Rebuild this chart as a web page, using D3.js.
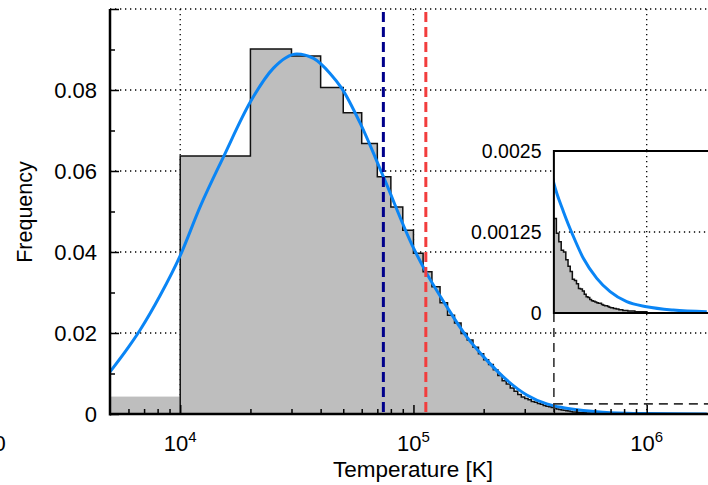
<!DOCTYPE html>
<html>
<head>
<meta charset="utf-8">
<script src="https://cdn.jsdelivr.net/npm/d3@7"></script>
<style>
    body { margin: 0; background: #fff; }
    svg { display: block; font-family: "Liberation Sans", Arial, Helvetica, sans-serif; }
</style>
</head>
<body>
<div id="chart-area"></div>
<script>
// temperature histogram, linear bins of 1e4 K shown on a log axis
const binWidth = 10000;
const lowBinFreq = 0.0043;          // bin 0 - 1e4 K, drawn as fill only
const histFreq = [                   // bins starting at 1e4, 2e4, ...
    0.0637, 0.0901, 0.0884, 0.0806, 0.0744, 0.0668, 0.0586, 0.0511, 0.0454,
    0.0397, 0.0351, 0.0314, 0.0275, 0.0244, 0.0225, 0.0199, 0.0183, 0.0165, 0.0149,
    0.0134, 0.0122, 0.0109, 0.0095, 0.0082, 0.0074, 0.0064, 0.0056, 0.0048, 0.0042,
    0.0038, 0.0035, 0.0031, 0.0029, 0.0026, 0.0024, 0.0021, 0.0019, 0.0018, 0.0016,
    0.00146, 0.00123, 0.00110, 0.00097, 0.00094, 0.00082, 0.00072, 0.00064, 0.00052, 0.00050,
    0.00045, 0.00038, 0.00037, 0.00034, 0.00029, 0.00025, 0.00024, 0.00021, 0.00019, 0.00018,
    0.00017, 0.00016, 0.00015, 0.00015, 0.00013, 0.00012, 0.00011, 0.00011, 0.00010, 0.00009,
    0.00008, 0.00008, 0.00007, 0.00007, 0.00006, 0.00006, 0.00005, 0.00005, 0.00005, 0.00004,
    0.00004, 0.00004, 0.00004, 0.00003, 0.00003, 0.00003, 0.00003, 0.00003, 0.00003, 0.00002,
    0.00002, 0.00002, 0.00002, 0.00002, 0.00002, 0.00002, 0.00002, 0.00002, 0.00002, 0.00002
];

// fitted curve
const fitT = [5000, 6000, 6740, 8210, 10000, 12180, 15330, 20000, 25100, 31600, 37300, 43900,
    49300, 59100, 74300, 100000, 113000, 139000, 169000, 206000, 251000, 306000, 373000,
    400000, 440000, 485000, 535000, 611000, 697000, 821000, 1000000, 1300000, 1810000];
const fitFreq = [0.0104, 0.0165, 0.0208, 0.0293, 0.0391, 0.0512, 0.0635, 0.0771, 0.0854, 0.0889, 0.0878, 0.0841,
    0.0804, 0.0718, 0.0586, 0.0410, 0.0351, 0.0265, 0.0191, 0.0133, 0.0084, 0.0047, 0.0025,
    0.0020, 0.00156, 0.00118, 0.000844, 0.000535, 0.000329, 0.000174, 0.000097, 0.000046, 0.00002];

const markerT = [74300, 113000];
const markerColor = ["#00008b", "#f23d3d"];

const xTicks = [1e4, 1e5, 1e6];
const xTickExp = ["4", "5", "6"];
const yTicks = [0, 0.02, 0.04, 0.06, 0.08, 0.1];
const yTickLabels = ["0", "0.02", "0.04", "0.06", "0.08", ""];
const yMinor = [0.01, 0.03, 0.05, 0.07, 0.09];
const yGrid = [0.02, 0.04, 0.06, 0.08, 0.1];

const insetFrom = 400000;
const insetTicks = [0, 0.00125, 0.0025];
const insetTickLabels = ["0", "0.00125", "0.0025"];

const W = 708, H = 485;
const histFill = "#bebebe", fitColor = "#0a85f5";

let svg = d3.select("#chart-area").append("svg")
    .attr("width", W)
    .attr("height", H);

let x = d3.scaleLog().domain([5000, 1e6]).range([110, 646.7]);
let y = d3.scaleLinear().domain([0, 0.1]).range([414, 9]);
let yIn = d3.scaleLinear().domain([0, 0.0025]).range([313, 151]);

let histData = histFreq.map((v, i) => ({t: (i + 1) * binWidth, v: v}));
let lastEnd = (histFreq.length + 1) * binWidth;
let stepPts = [{t: binWidth, v: 0}].concat(histData, [{t: lastEnd, v: 0}]);
let fitData = fitT.map((t, i) => ({t: t, v: fitFreq[i]}));

svg.append("defs").append("clipPath").attr("id", "main-clip")
    .append("rect").attr("x", 110).attr("y", 0).attr("width", W - 110).attr("height", 414);
svg.select("defs").append("clipPath").attr("id", "inset-clip")
    .append("rect").attr("x", x(insetFrom)).attr("y", 151)
    .attr("width", W - x(insetFrom)).attr("height", 162);

// grid
let grid = svg.append("g").attr("stroke", "#000").attr("stroke-width", 1.3)
    .attr("stroke-dasharray", "1.3 3.7");
grid.selectAll(".hgrid").data(yGrid).enter().append("line")
    .attr("x1", 110).attr("x2", W)
    .attr("y1", d => y(d)).attr("y2", d => y(d));
grid.selectAll(".vgrid").data(xTicks).enter().append("line")
    .attr("x1", d => x(d)).attr("x2", d => x(d))
    .attr("y1", y(0.1)).attr("y2", y(0));

// histogram
let main = svg.append("g").attr("clip-path", "url(#main-clip)");
main.append("rect")
    .attr("x", x(5000))
    .attr("y", y(lowBinFreq))
    .attr("width", x(binWidth) - x(5000))
    .attr("height", y(0) - y(lowBinFreq))
    .attr("fill", histFill);

let area = d3.area().curve(d3.curveStepAfter)
    .x(d => x(d.t)).y0(y(0)).y1(d => y(d.v));
let step = d3.line().curve(d3.curveStepAfter)
    .x(d => x(d.t)).y(d => y(d.v));

main.append("path").attr("d", area(stepPts)).attr("fill", histFill);
main.append("path").attr("d", step(stepPts))
    .attr("fill", "none").attr("stroke", "#111").attr("stroke-width", 1.5);

let fitLine = d3.line().curve(d3.curveMonotoneX)
    .x(d => x(d.t)).y(d => y(d.v));
main.append("path").attr("d", fitLine(fitData))
    .attr("fill", "none").attr("stroke", fitColor).attr("stroke-width", 3);

// dashed markers
main.selectAll(".marker").data(markerT).enter().append("line")
    .attr("x1", d => x(d)).attr("x2", d => x(d))
    .attr("y1", 12).attr("y2", y(0))
    .attr("stroke", (d, i) => markerColor[i])
    .attr("stroke-width", 3)
    .attr("stroke-dasharray", "10 5");

// zoom box
let box = svg.append("g").attr("stroke", "#333").attr("stroke-width", 1.6)
    .attr("stroke-dasharray", "9 6").attr("fill", "none");
box.append("line").attr("x1", x(insetFrom)).attr("x2", x(insetFrom))
    .attr("y1", 313).attr("y2", y(0));
box.append("line").attr("x1", x(insetFrom)).attr("x2", W)
    .attr("y1", y(0.0025)).attr("y2", y(0.0025));

// axes
let yAxis = d3.axisLeft(y).tickValues(yTicks).tickSize(-9).tickSizeOuter(0).tickPadding(13)
    .tickFormat((d, i) => yTickLabels[i]);
let yAxisMinor = d3.axisLeft(y).tickValues(yMinor).tickSize(-5).tickSizeOuter(0).tickFormat("");
let xMinor = x.ticks().filter(t => xTicks.indexOf(t) < 0 && t > 5000);
let xAxis = d3.axisBottom(x).tickValues(xTicks).tickSize(-9).tickSizeOuter(0).tickPadding(14)
    .tickFormat("");
let xAxisMinor = d3.axisBottom(x).tickValues(xMinor).tickSize(-5).tickSizeOuter(0).tickFormat("");

let gy = svg.append("g").attr("transform", "translate(110,0)").call(yAxis);
svg.append("g").attr("transform", "translate(110,0)").call(yAxisMinor);
let gx = svg.append("g").attr("transform", "translate(0,414)").call(xAxis);
svg.append("g").attr("transform", "translate(0,414)").call(xAxisMinor);

svg.selectAll(".domain").remove();
svg.selectAll(".tick line").attr("stroke", "#000").attr("stroke-width", 1.5);
gy.selectAll("text").attr("font-size", 22).attr("fill", "#000").attr("font-family", null);

svg.append("line").attr("x1", 110).attr("x2", 110).attr("y1", 9).attr("y2", 415.5)
    .attr("stroke", "#000").attr("stroke-width", 2.5);
svg.append("line").attr("x1", 110).attr("x2", W).attr("y1", 414).attr("y2", 414)
    .attr("stroke", "#000").attr("stroke-width", 2.5);

// x tick labels with exponents
let xl = svg.append("g").attr("font-size", 22).attr("text-anchor", "middle");
xTicks.forEach(function (t, i) {
    let txt = xl.append("text").attr("x", x(t)).attr("y", 451);
    txt.append("tspan").text("10");
    txt.append("tspan").attr("font-size", 15).attr("dy", -9).text(xTickExp[i]);
});
// clipped label from the neighbouring panel
svg.append("text").attr("x", -6.5).attr("y", 451).attr("font-size", 22).text("0");

svg.append("text")
    .attr("x", 413).attr("y", 477)
    .attr("text-anchor", "middle").attr("font-size", 22.5)
    .text("Temperature [K]");
svg.append("text")
    .attr("transform", "translate(32,212) rotate(-90)")
    .attr("text-anchor", "middle").attr("font-size", 21.5)
    .text("Frequency");

// inset
let xi0 = x(insetFrom);
let inset = svg.append("g");
inset.append("rect").attr("x", xi0).attr("y", 151).attr("width", W - xi0).attr("height", 162)
    .attr("fill", "#fff");
let ig = inset.append("g").attr("stroke", "#000").attr("stroke-width", 1.3)
    .attr("stroke-dasharray", "1.3 3.7");
ig.append("line").attr("x1", xi0).attr("x2", W).attr("y1", yIn(0.00125)).attr("y2", yIn(0.00125));
ig.append("line").attr("x1", x(1e6)).attr("x2", x(1e6)).attr("y1", 151).attr("y2", 313);

let insetPts = histData.filter(d => d.t >= insetFrom).concat([{t: lastEnd, v: 0}]);
let ic = inset.append("g").attr("clip-path", "url(#inset-clip)");
let areaIn = d3.area().curve(d3.curveStepAfter)
    .x(d => x(d.t)).y0(yIn(0)).y1(d => yIn(d.v));
let stepIn = d3.line().curve(d3.curveStepAfter)
    .x(d => x(d.t)).y(d => yIn(d.v));
ic.append("path").attr("d", areaIn(insetPts)).attr("fill", histFill);
ic.append("path").attr("d", stepIn(insetPts)).attr("fill", "none")
    .attr("stroke", "#111").attr("stroke-width", 1.5);
let fitIn = d3.line().curve(d3.curveMonotoneX)
    .x(d => x(d.t)).y(d => yIn(d.v));
ic.append("path").attr("d", fitIn(fitData.filter(d => d.t >= 373000)))
    .attr("fill", "none").attr("stroke", fitColor).attr("stroke-width", 3);

inset.append("path")
    .attr("d", "M" + W + ",151H" + xi0 + "V313H" + W)
    .attr("fill", "none").attr("stroke", "#000").attr("stroke-width", 2);

inset.selectAll(".ilab").data(insetTicks).enter().append("text")
    .attr("x", 541.5)
    .attr("y", d => yIn(d))
    .attr("dy", "0.35em")
    .attr("text-anchor", "end")
    .attr("font-size", 19.5)
    .text((d, i) => insetTickLabels[i]);
</script>
</body>
</html>
